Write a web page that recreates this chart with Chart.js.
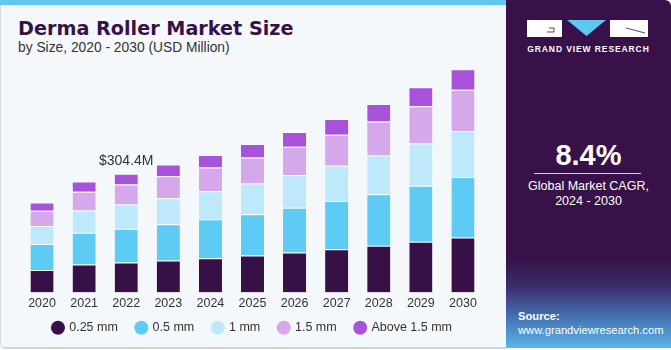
<!DOCTYPE html>
<html lang="en">
  <head>
    <meta charset="UTF-8" />
    <script src="https://cdn.jsdelivr.net/npm/chart.js@4.4.0/dist/chart.umd.min.js"></script>
    <title>Derma Roller Market Size</title>
    <style>
      body { margin: 0; background: #fff; font-family: "Liberation Sans", Arial, sans-serif; }
      .frame { position: relative; width: 671px; height: 350px; overflow: hidden; }
      .left {
        position: absolute; left: 0; top: 0; width: 505px; height: 347px;
        background: #f4f8fb; border-left: 1px solid #d4d8dc; border-bottom: 2px solid #cfd3d6;
        border-bottom-left-radius: 5px;
      }
      .strip { position: absolute; left: 0; top: 0; width: 506px; height: 5px; background: #5ec8f0; }
      .title { position: absolute; left: 18px; top: 17px; font-family: "DejaVu Sans", sans-serif; font-size: 19.2px; font-weight: bold; color: #371147; }
      .subtitle { position: absolute; left: 18px; top: 40px; font-size: 13.8px; color: #333; }
      .chart-box { position: absolute; left: 0; top: 0; width: 506px; height: 350px; }
      .right {
        position: absolute; left: 506px; top: 0; width: 165px; height: 348px;
        border-top-right-radius: 6px;
        background: linear-gradient(#371147 0%, #371147 74%, #3b2c6a 82%, #4578b8 92%, #5ab6e8 100%);
        color: #fff; text-align: center;
      }
      .logo { position: absolute; left: 21px; top: 20px; width: 121px; height: 17px; }
      .brand { position: absolute; left: 0; width: 165px; top: 44px; font-size: 8.5px; font-weight: bold; letter-spacing: 0.9px; }
      .cagr { position: absolute; left: 0; width: 165px; top: 139px; font-size: 29px; font-weight: bold; }
      .rule { position: absolute; left: 28px; width: 107px; top: 173px; height: 1px; background: #d9cfe0; }
      .cagr-text { position: absolute; left: 0; width: 165px; top: 179px; font-size: 12.5px; line-height: 15px; }
      .source { position: absolute; left: 12px; top: 309px; text-align: left; font-size: 11.2px; line-height: 14px; }
    </style>
  </head>
  <body>
    <div class="frame">
      <div class="left"></div>
      <div class="strip"></div>
      <div class="title">Derma Roller Market Size</div>
      <div class="subtitle">by Size, 2020 - 2030 (USD Million)</div>
      <div class="chart-box"><canvas id="myChart" width="506" height="350"></canvas></div>
      <div class="right">
        <svg class="logo" viewBox="0 0 121 17">
          <rect x="0" y="0" width="35" height="17" fill="#fff" />
          <path d="M22 8 H27 V12 H20" stroke="#371147" stroke-width="0.8" fill="none" />
          <polygon points="40,0 79,0 59.5,16" fill="#5ec8f0" />
          <rect x="83" y="0" width="38" height="17" fill="#fff" />
          <path d="M99 8 L118 13" stroke="#371147" stroke-width="0.8" />
        </svg>
        <div class="brand">GRAND VIEW RESEARCH</div>
        <div class="cagr">8.4%</div>
        <div class="rule"></div>
        <div class="cagr-text">Global Market CAGR,<br />2024 - 2030</div>
        <div class="source"><b>Source:</b><br />www.grandviewresearch.com</div>
      </div>
    </div>

    <script>
      const years = ["2020", "2021", "2022", "2023", "2024", "2025", "2026", "2027", "2028", "2029", "2030"];
      const mm025 = [58.0, 71.9, 77.0, 82.1, 88.0, 95.0, 102.7, 111.2, 119.6, 129.9, 141.2];
      const mm05 = [66.7, 81.1, 86.3, 93.2, 100.1, 106.0, 114.5, 123.2, 132.7, 143.8, 154.8];
      const mm1 = [46.2, 57.5, 62.6, 66.7, 71.9, 78.8, 83.9, 90.6, 99.3, 108.8, 118.1];
      const mm15 = [38.5, 47.7, 51.3, 56.5, 60.8, 66.7, 72.6, 79.6, 87.3, 95.0, 106.0];
      const above15 = [21.6, 26.7, 27.2, 30.0, 31.6, 34.1, 37.7, 40.3, 44.4, 48.8, 52.4];
      const labelIndex = 2;
      const labelText = "$304.4M";

      const totalLabel = {
        id: "totalLabel",
        afterDatasetsDraw(chart) {
          const { ctx, scales } = chart;
          let total = 0;
          chart.data.datasets.forEach((ds) => (total += ds.data[labelIndex]));
          const x = scales.x.getPixelForValue(labelIndex);
          const y = scales.y.getPixelForValue(total);
          ctx.save();
          ctx.font = '14px "Liberation Sans", Arial, sans-serif';
          ctx.fillStyle = "#333";
          ctx.textAlign = "center";
          ctx.textBaseline = "bottom";
          ctx.fillText(labelText, x, y - 6);
          ctx.restore();
        },
      };

      function series(label, data, color) {
        return {
          label,
          data,
          backgroundColor: color,
          borderColor: "rgba(255,255,255,0.35)",
          borderWidth: { top: 1, left: 0, right: 0, bottom: 0 },
          borderSkipped: false,
          categoryPercentage: 0.55,
          barPercentage: 1,
        };
      }

      const ctx = document.getElementById("myChart").getContext("2d");
      const myChart = new Chart(ctx, {
        type: "bar",
        data: {
          labels: years,
          datasets: [
            series("0.25 mm", mm025, "#371047"),
            series("0.5 mm", mm05, "#5ecbf5"),
            series("1 mm", mm1, "#bee9fa"),
            series("1.5 mm", mm15, "#d5a8ec"),
            series("Above 1.5 mm", above15, "#a752d8"),
          ],
        },
        options: {
          responsive: false,
          animation: false,
          layout: { padding: { left: 21, right: 22, top: 66, bottom: 6 } },
          scales: {
            x: {
              stacked: true,
              grid: { display: false, drawTicks: false },
              border: { display: false },
              ticks: { color: "#333", font: { size: 12.5, family: '"Liberation Sans", Arial, sans-serif' }, padding: 4 },
            },
            y: {
              stacked: true,
              display: false,
              min: 0,
              max: 581,
            },
          },
          plugins: {
            legend: {
              position: "bottom",
              labels: {
                usePointStyle: true,
                pointStyle: "circle",
                boxWidth: 10,
                boxHeight: 10,
                padding: 6,
                color: "#333",
                font: { size: 12.5, family: '"Liberation Sans", Arial, sans-serif' },
                generateLabels(chart) {
                  const items = Chart.defaults.plugins.legend.labels.generateLabels(chart);
                  // widen the gap between entries without growing the legend height
                  items.forEach((it, i) => {
                    if (i < items.length - 1) it.text += "\u2002\u2002";
                  });
                  return items;
                },
              },
            },
            tooltip: { enabled: false },
          },
        },
        plugins: [totalLabel],
      });
    </script>
  </body>
</html>
